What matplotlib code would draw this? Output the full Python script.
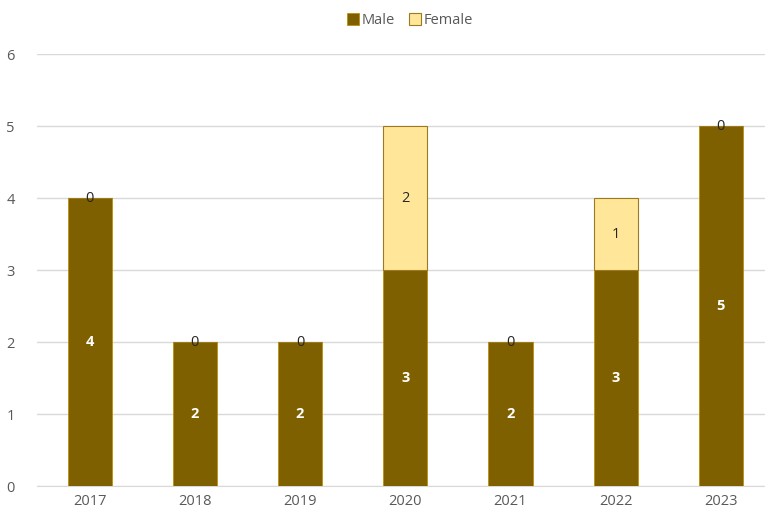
import matplotlib
matplotlib.use("Agg")
import matplotlib.pyplot as plt
import numpy as np

years = ["2017", "2018", "2019", "2020", "2021", "2022", "2023"]
male = [4, 2, 2, 3, 2, 3, 5]
female = [0, 0, 0, 2, 0, 1, 0]

plt.rcParams['font.family'] = ['Open Sans', 'DejaVu Sans']
W, H = 765, 519
fig = plt.figure(figsize=(W/100, H/100), dpi=100)
ax = fig.add_axes([37/W, 33/H, (765-37)/W, (486-54)/H])

x = np.arange(len(years))
male_c = "#7F6000"
fem_c = "#FFE699"
bw = 0.42
ax.bar(x, male, bw, color=male_c, edgecolor="#BF9000", linewidth=0.6, label="Male", zorder=3)
ax.bar(x, female, bw, bottom=male, color=fem_c, edgecolor="#9C7A1E", linewidth=0.8, label="Female", zorder=3)

for i in range(len(years)):
    ax.text(x[i], male[i]/2, str(male[i]), ha="center", va="center", color="white",
            fontsize=10.5, fontweight="bold", zorder=4)
    ax.text(x[i], male[i] + female[i]/2, str(female[i]), ha="center", va="center",
            color="#262626", fontsize=10.5, zorder=4)

ax.set_xlim(-0.5, 6.42)
ax.set_ylim(0, 6)
ax.set_yticks(range(0, 7))
ax.set_xticks(x)
ax.set_xticklabels(years)
ax.yaxis.grid(True, color="#D9D9D9", linewidth=1, zorder=0)
for s in ["top", "right", "left"]:
    ax.spines[s].set_visible(False)
ax.spines["bottom"].set_color("#D9D9D9")
ax.tick_params(axis="both", length=0, colors="#595959", labelsize=10.5)
ax.tick_params(axis="y", pad=16)
ax.tick_params(axis="x", pad=6)

leg = fig.legend(loc="upper center", bbox_to_anchor=(0.536, 1.0), ncol=2, frameon=False,
                 fontsize=10.5, handlelength=0.8, handleheight=0.8, handletextpad=0.2,
                 columnspacing=1.0)
for t in leg.get_texts():
    t.set_color("#595959")

fig.savefig("out.png", dpi=100)
